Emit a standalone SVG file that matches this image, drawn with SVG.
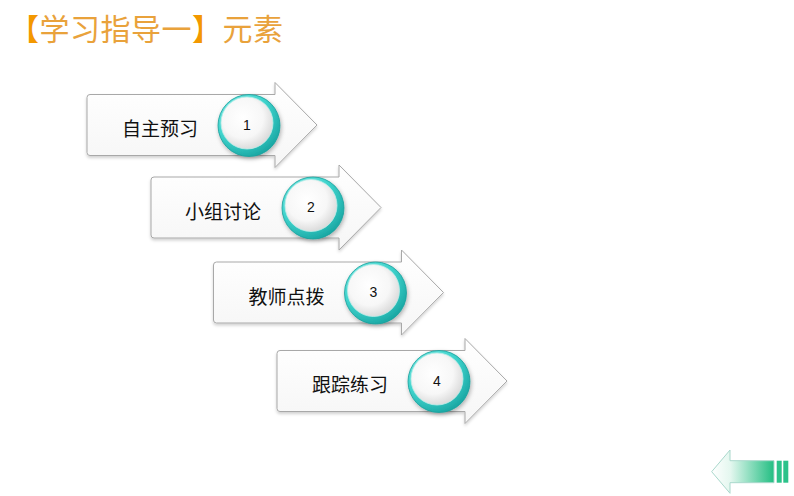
<svg xmlns="http://www.w3.org/2000/svg" xmlns:xlink="http://www.w3.org/1999/xlink" width="794" height="496" viewBox="0 0 794 496">
<style>
.title{font-family:"Noto Sans CJK SC","Noto Sans",sans-serif;font-size:30px;fill:#E9A23B}
.br{fill:#F39800}
.lbl{font-family:"Noto Sans CJK SC","Noto Sans",sans-serif;font-size:19px;fill:#111}
.num{font-family:"Liberation Sans","Noto Sans",sans-serif;font-size:14px;fill:#111;text-anchor:middle}
.arrow{fill:url(#bodyGrad);stroke:#A8A8A8;stroke-width:1;filter:url(#shadow)}
</style>
<defs>
<linearGradient id="bodyGrad" x1="0" y1="0" x2="0" y2="1">
<stop offset="0" stop-color="#FFFFFF"/>
<stop offset="1" stop-color="#F6F6F6"/>
</linearGradient>
<radialGradient id="ringGrad" cx="0.35" cy="0.3" r="0.8">
<stop offset="0" stop-color="#8FF0EA"/>
<stop offset="0.55" stop-color="#3FD3CC"/>
<stop offset="1" stop-color="#129E9B"/>
</radialGradient>
<radialGradient id="innerGrad" cx="0.42" cy="0.4" r="0.65">
<stop offset="0" stop-color="#FFFFFF"/>
<stop offset="0.6" stop-color="#F7F7F7"/>
<stop offset="1" stop-color="#D6D6D6"/>
</radialGradient>
<linearGradient id="backGrad" x1="0" y1="0" x2="1" y2="0">
<stop offset="0" stop-color="#FFFFFF"/>
<stop offset="0.3" stop-color="#E4F7EF"/>
<stop offset="1" stop-color="#22BE82"/>
</linearGradient>
<filter id="shadow" x="-10%" y="-10%" width="125%" height="130%">
<feDropShadow dx="0" dy="2" stdDeviation="1.5" flood-color="#000" flood-opacity="0.18"/>
</filter>
<filter id="cshadow" x="-30%" y="-30%" width="160%" height="160%">
<feDropShadow dx="1" dy="2" stdDeviation="2" flood-color="#000" flood-opacity="0.3"/>
</filter>
<path id="arrowShape" d="M3,-30.5 L188,-30.5 L188,-42.5 L230,0 L188,42.5 L188,30.5 L3,30.5 Q0,30.5 0,27.5 L0,-27.5 Q0,-30.5 3,-30.5 Z"/>
<g id="badge">
<circle cx="162" cy="0.5" r="31" fill="url(#ringGrad)" stroke="#18A09C" stroke-width="0.8" filter="url(#cshadow)"/>
<circle cx="160" cy="-2" r="26" fill="url(#innerGrad)" stroke="#BFEDEA" stroke-width="0.8"/>
</g>
</defs>

<rect width="794" height="496" fill="#FFFFFF"/>

<g id="title">
<text class="title" x="9" y="40" textLength="274" lengthAdjust="spacing"><tspan class="br">【</tspan>学习指导一<tspan class="br">】</tspan>元素</text>
</g>

<g id="connectors"></g>

<g id="step1" transform="translate(87,125)">
<use xlink:href="#arrowShape" class="arrow"/>
<use xlink:href="#badge"/>
<text class="lbl" x="35" y="11">自主预习</text>
<text class="num" x="160" y="4.5">1</text>
</g>

<g id="step2" transform="translate(151,207.5)">
<use xlink:href="#arrowShape" class="arrow"/>
<use xlink:href="#badge"/>
<text class="lbl" x="34" y="11">小组讨论</text>
<text class="num" x="160" y="4.5">2</text>
</g>

<g id="step3" transform="translate(213.5,292.5)">
<use xlink:href="#arrowShape" class="arrow"/>
<use xlink:href="#badge"/>
<text class="lbl" x="35" y="11">教师点拨</text>
<text class="num" x="160" y="4.5">3</text>
</g>

<g id="step4" transform="translate(277,381)">
<use xlink:href="#arrowShape" class="arrow"/>
<use xlink:href="#badge"/>
<text class="lbl" x="35" y="11">跟踪练习</text>
<text class="num" x="160" y="4.5">4</text>
</g>

<g id="back">
<path d="M774,460.7 L730,460.7 L730,450 L711.7,471.7 L730,493.3 L730,482.7 L774,482.7 Z" fill="url(#backGrad)" stroke="#A9D8CC" stroke-width="1"/>
<rect x="776.7" y="460.7" width="5" height="22" fill="#2CC28A"/>
<rect x="783.3" y="460.7" width="5" height="22" fill="#2CC28A"/>
</g>
</svg>
